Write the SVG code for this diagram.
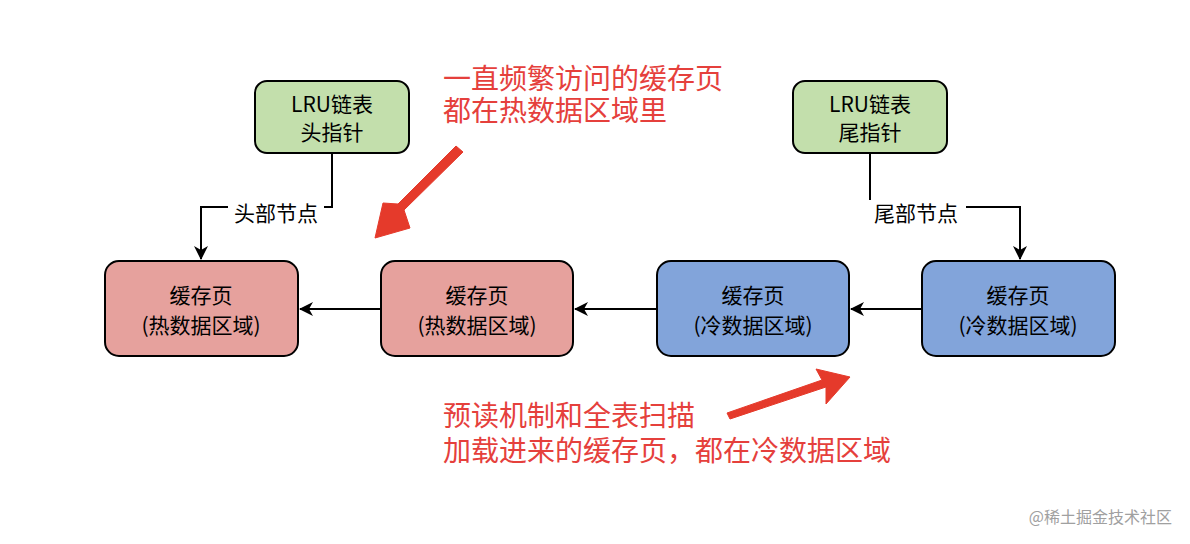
<svg xmlns="http://www.w3.org/2000/svg" width="1190" height="544" viewBox="0 0 1190 544">
<style>
text{font-family:"Noto Sans CJK SC","Noto Sans",sans-serif}
.n{font-size:21px;fill:#000;text-anchor:middle}
.hot{fill:#e6a19d;stroke:#000;stroke-width:2}
.cold{fill:#82a4da;stroke:#000;stroke-width:2}
.grn{fill:#c3dfac;stroke:#000;stroke-width:2}
.c{fill:none;stroke:#000;stroke-width:2}
.lbl{font-size:21px;fill:#000;text-anchor:middle}
.red{font-size:28px;fill:#e5403c}
</style>
<defs>
<marker id="b" viewBox="0 0 14 14" refX="13" refY="7" markerWidth="14" markerHeight="14" orient="auto" markerUnits="userSpaceOnUse"><path d="M0,0 L14,7 L0,14 L4,7 Z" fill="#000"/></marker></defs>
<g id="connectors">
<path class="c" d="M332,153 V207 H201 V259" marker-end="url(#b)"/>
<rect x="228" y="200" width="96" height="24" fill="#fff"/>
<text class="lbl" x="276" y="221">头部节点</text>
<path class="c" d="M870,153 V207 H1020 V259" marker-end="url(#b)"/>
<rect x="866" y="200" width="100" height="24" fill="#fff"/>
<text class="lbl" x="916" y="221">尾部节点</text>
<path class="c" d="M381,309 H300" marker-end="url(#b)"/>
<path class="c" d="M657,309 H575" marker-end="url(#b)"/>
<path class="c" d="M922,309 H851" marker-end="url(#b)"/>
</g>
<g id="g1"><rect class="grn" x="255" y="81" width="154" height="72" rx="12"/><text class="n" x="332" y="112">LRU链表</text><text class="n" x="332" y="140">头指针</text></g>
<g id="g2"><rect class="grn" x="793" y="81" width="154" height="72" rx="12"/><text class="n" x="870" y="112">LRU链表</text><text class="n" x="870" y="140">尾指针</text></g>
<g id="b1"><rect class="hot" x="105" y="261" width="193" height="95" rx="14"/><text class="n" x="201" y="303">缓存页</text><text class="n" x="201" y="333">(热数据区域)</text></g>
<g id="b2"><rect class="hot" x="381" y="261" width="192" height="95" rx="14"/><text class="n" x="477" y="303">缓存页</text><text class="n" x="477" y="333">(热数据区域)</text></g>
<g id="b3"><rect class="cold" x="657" y="261" width="192" height="95" rx="14"/><text class="n" x="753" y="303">缓存页</text><text class="n" x="753" y="333">(冷数据区域)</text></g>
<g id="b4"><rect class="cold" x="922" y="261" width="193" height="95" rx="14"/><text class="n" x="1018" y="303">缓存页</text><text class="n" x="1018" y="333">(冷数据区域)</text></g>
<g id="notes">
<path d="M456,146 L463,152 L404,210 L410,228 L375,238 L383,203 L398,204 Z" fill="#e53a2b" stroke="#e53a2b" stroke-width="1" stroke-linejoin="round"/>
<path d="M727,413 L730,419 L826,387 L826,404 L850,377 L816,369 L822,380 Z" fill="#e53a2b" stroke="#e53a2b" stroke-width="1" stroke-linejoin="round"/>
<text class="red" x="443" y="89">一直频繁访问的缓存页</text>
<text class="red" x="443" y="121">都在热数据区域里</text>
<text class="red" x="443" y="426">预读机制和全表扫描</text>
<text class="red" x="443" y="461">加载进来的缓存页，都在冷数据区域</text>
<text x="1172" y="523" font-size="16" fill="#a0a0a0" text-anchor="end">@稀土掘金技术社区</text>
</g>
</svg>
